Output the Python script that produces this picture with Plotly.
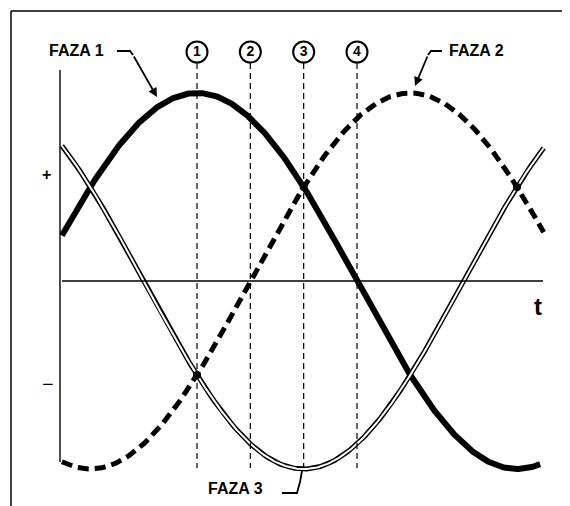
import numpy as np
import plotly.graph_objects as go

# three-phase sine waves, angle in electrical degrees
phase_names = ["FAZA 1", "FAZA 2", "FAZA 3"]
phase_shift = [0, -120, 120]
amplitude = [1.0, 1.0, 1.0]
t_start = 14
t_end = [283, 285, 285]

# numbered instants
marker_labels = ["1", "2", "3", "4"]
marker_angles = [90, 120, 150, 180]

# crossings marked with a dot
dot_angles = [90, 150, 270]
dot_values = [-0.5, 0.5, 0.5]

# pixel <-> data helpers (layout only); page body has an 8px margin
PAGE_OFF = 8
W, H = 570, 506
DEG_PER_PX = 0.5625
X0 = -37 * DEG_PER_PX
Y_ZERO, Y_AMP = 281, 188


def dx(px):
    return X0 + px * DEG_PER_PX


def dy(py):
    return (Y_ZERO - py) / Y_AMP


def paper_x(px):
    return (px - PAGE_OFF) / (W - PAGE_OFF)


def paper_y(py):
    return 1 - (py - PAGE_OFF) / (H - PAGE_OFF)


def path(points):
    return "M " + " L ".join(f"{dx(a)},{dy(b)}" for a, b in points)


fig = go.Figure()

# axes drawn as lines
fig.add_shape(type="line", x0=dx(60), x1=dx(60), y0=dy(70), y1=dy(462),
              line=dict(color="black", width=1.4))
fig.add_shape(type="line", x0=dx(62), x1=dx(543), y0=0, y1=0,
              line=dict(color="black", width=1.3))

# frame edges
fig.add_shape(type="line", xref="paper", yref="paper", x0=paper_x(11), x1=1,
              y0=paper_y(11), y1=paper_y(11), line=dict(color="black", width=1.5))
fig.add_shape(type="line", xref="paper", yref="paper", x0=paper_x(11), x1=paper_x(11),
              y0=0, y1=paper_y(11), line=dict(color="black", width=1.5))

# dashed instants
for a in marker_angles:
    fig.add_shape(type="line", x0=a, x1=a, y0=dy(63), y1=dy(468),
                  line=dict(color="black", width=1.2, dash="6px,4px"))

fig.add_trace(go.Scatter(
    x=marker_angles, y=[dy(52)] * len(marker_angles),
    mode="markers+text", text=["<b>%s</b>" % m for m in marker_labels],
    textfont=dict(family="Liberation Sans", size=14, color="black"),
    textposition="middle center",
    marker=dict(symbol="circle", size=21, color="white",
                line=dict(color="black", width=2)),
    hoverinfo="skip", showlegend=False))

# waves
curves = []
for name, shift, amp, end in zip(phase_names, phase_shift, amplitude, t_end):
    t = np.linspace(t_start, end, 400)
    curves.append((name, t, amp * np.sin(np.radians(t + shift))))

name, t, v = curves[0]
fig.add_trace(go.Scatter(x=t, y=v, mode="lines", name=name,
                         line=dict(color="black", width=6), showlegend=False))

name, t, v = curves[1]
fig.add_trace(go.Scatter(x=t, y=v, mode="lines", name=name,
                         line=dict(color="black", width=5, dash="11px,6px"),
                         showlegend=False))

name, t, v = curves[2]
fig.add_trace(go.Scatter(x=t, y=v, mode="lines", name=name,
                         line=dict(color="black", width=5), showlegend=False))
fig.add_trace(go.Scatter(x=t, y=v, mode="lines", hoverinfo="skip",
                         line=dict(color="white", width=2), showlegend=False))

fig.add_trace(go.Scatter(x=dot_angles, y=dot_values, mode="markers",
                         marker=dict(color="black", size=8), showlegend=False))

# text labels
lab_font = dict(family="Liberation Sans", size=16, color="black")
lead = dict(color="black", width=1.8)
arrow = dict(axref="x", ayref="y", showarrow=True, arrowhead=2, arrowsize=1,
             arrowwidth=1.8, arrowcolor="black", text="")

fig.add_annotation(x=dx(47), y=dy(50), text="<b>FAZA 1</b>", showarrow=False,
                   xanchor="left", font=lab_font)
fig.add_shape(type="path", path=path([(117, 51), (130, 51), (133, 55)]), line=lead)
fig.add_annotation(x=dx(157), y=dy(97), ax=dx(133), ay=dy(55), **arrow)

fig.add_annotation(x=dx(447), y=dy(50), text="<b>FAZA 2</b>", showarrow=False,
                   xanchor="left", font=lab_font)
fig.add_shape(type="path", path=path([(442, 51), (431, 51), (428, 55)]), line=lead)
fig.add_annotation(x=dx(415), y=dy(86), ax=dx(428), ay=dy(55), **arrow)

fig.add_annotation(x=dx(206), y=dy(488), text="<b>FAZA 3</b>", showarrow=False,
                   xanchor="left", font=lab_font)
fig.add_shape(type="path", path=path([(282, 493), (297, 493), (300, 482), (302, 471)]),
              line=lead)

fig.add_annotation(x=dx(538), y=dy(306), text="<b>t</b>", showarrow=False,
                   font=dict(family="Liberation Sans", size=24, color="black"))
fig.add_annotation(x=dx(46), y=dy(174), text="<b>+</b>", showarrow=False,
                   font=dict(family="Liberation Sans", size=16, color="black"))
fig.add_annotation(x=dx(48), y=dy(384), text="−", showarrow=False,
                   font=dict(family="Liberation Sans", size=20, color="black"))

fig.update_layout(
    width=W - PAGE_OFF, height=H - PAGE_OFF,
    margin=dict(l=0, r=0, t=0, b=0),
    paper_bgcolor="white", plot_bgcolor="white",
    xaxis=dict(range=[dx(PAGE_OFF), dx(W)], visible=False, fixedrange=True),
    yaxis=dict(range=[dy(H), dy(PAGE_OFF)], visible=False, fixedrange=True),
    showlegend=False,
)

fig.write_html("out.html")
